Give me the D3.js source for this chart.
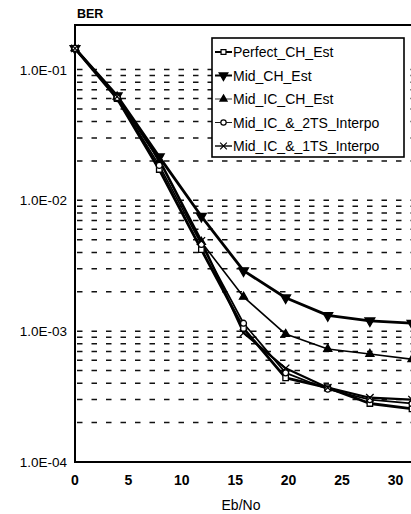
<!DOCTYPE html>
<html>
<head>
<meta charset="utf-8">
<script src="https://cdn.jsdelivr.net/npm/d3@7"></script>
<style>
  body { margin: 0; background: #fff; }
  svg { display: block; font-family: "Liberation Sans", Arial, sans-serif; }
</style>
</head>
<body>
<svg width="411" height="514"></svg>
<script>
// Eb/No points and BER of each series
const ebno = [0, 4, 8, 12, 16, 20, 24, 28, 32];
const perfect = [0.145, 0.060, 0.0172, 0.0042, 0.00105, 0.00044, 0.00037, 0.00028, 0.000255];
const midCh = [0.145, 0.063, 0.0215, 0.00755, 0.0029, 0.0018, 0.00132, 0.0012, 0.00115];
const midIc = [0.145, 0.062, 0.020, 0.0048, 0.00183, 0.00095, 0.00073, 0.00067, 0.00061];
const ts2 = [0.145, 0.061, 0.0185, 0.0046, 0.00115, 0.00048, 0.00036, 0.00030, 0.00028];
const ts1 = [0.145, 0.062, 0.0205, 0.0049, 0.00097, 0.00052, 0.00037, 0.00031, 0.00030];
const seriesNames = ['Perfect_CH_Est', 'Mid_CH_Est', 'Mid_IC_CH_Est', 'Mid_IC_&_2TS_Interpo', 'Mid_IC_&_1TS_Interpo'];
const xTicks = [0, 5, 10, 15, 20, 25, 30];
const yTicks = [1e-4, 1e-3, 1e-2, 1e-1];
const yTickLabels = ['1.0E-04', '1.0E-03', '1.0E-02', '1.0E-01'];

const svg = d3.select('svg');

const x = d3.scaleLinear().domain([0, 32]).range([75, 412]);
const y = d3.scaleLog().domain([1e-4, 1e-1]).range([462, 69.5]);
const frameTop = 25;

// dashed grid at 1..9 x 10^k (not on the bottom axis)
const gridVals = [];
[-4, -3, -2].forEach((k) => {
  for (let m = 1; m <= 9; m++) gridVals.push(m * Math.pow(10, k));
});
gridVals.push(1e-1);

svg.append('g')
  .selectAll('line')
  .data(gridVals.filter((v) => v > 1.0001e-4))
  .enter()
  .append('line')
  .attr('x1', 77)
  .attr('x2', 411)
  .attr('y1', (d) => y(d))
  .attr('y2', (d) => y(d))
  .attr('stroke', '#111')
  .attr('stroke-width', 1.5)
  .attr('stroke-dasharray', '5.5,9');

// frame: left axis, bottom axis, top border
svg.append('path')
  .attr('d', `M411,${frameTop}H75V462H411`)
  .attr('fill', 'none')
  .attr('stroke', '#000')
  .attr('stroke-width', 2);

// y labels
svg.append('g')
  .selectAll('text')
  .data(yTicks)
  .enter()
  .append('text')
  .attr('x', 67)
  .attr('y', (d) => y(d) + 5)
  .attr('text-anchor', 'end')
  .attr('font-size', 13.5)
  .text((d, i) => yTickLabels[i]);

// x labels
svg.append('g')
  .selectAll('text')
  .data(xTicks)
  .enter()
  .append('text')
  .attr('x', (d) => x(d) + d * 0.15)
  .attr('y', 485)
  .attr('text-anchor', 'middle')
  .attr('font-size', 14)
  .attr('font-weight', 'bold')
  .text((d) => d);

svg.append('text')
  .attr('x', 241)
  .attr('y', 510)
  .attr('text-anchor', 'middle')
  .attr('font-size', 14)
  .text('Eb/No');

svg.append('text')
  .attr('x', 77)
  .attr('y', 18)
  .attr('font-size', 12.5)
  .attr('font-weight', 'bold')
  .text('BER');

// series styles
const styles = [
  { vals: perfect, width: 2.8, sym: d3.symbolSquare, size: 30, fill: '#fff', rot: 0 },
  { vals: midCh, width: 2.8, sym: d3.symbolTriangle, size: 42, fill: '#000', rot: 180 },
  { vals: midIc, width: 1.6, sym: d3.symbolTriangle, size: 28, fill: '#000', rot: 0 },
  { vals: ts2, width: 1.7, sym: d3.symbolCircle, size: 28, fill: '#fff', rot: 0 },
  { vals: ts1, width: 2.2, sym: d3.symbolX, size: 38, fill: 'none', rot: 0 }
];

const line = d3.line()
  .x((d) => x(d[0]))
  .y((d) => y(d[1]));

styles.forEach((s) => {
  const pts = ebno.map((e, i) => [e, s.vals[i]]);
  svg.append('path')
    .datum(pts)
    .attr('d', line)
    .attr('fill', 'none')
    .attr('stroke', '#000')
    .attr('stroke-width', s.width)
    .attr('stroke-linejoin', 'round');
});

styles.forEach((s) => {
  const pts = ebno.map((e, i) => [e, s.vals[i]]);
  svg.append('g')
    .selectAll('path')
    .data(pts)
    .enter()
    .append('path')
    .attr('d', d3.symbol().type(s.sym).size(s.size))
    .attr('transform', (d) => `translate(${x(d[0])},${y(d[1])}) rotate(${s.rot})`)
    .attr('fill', s.fill)
    .attr('stroke', '#000')
    .attr('stroke-width', 1.3);
});

// legend
const legend = svg.append('g');
legend.append('rect')
  .attr('x', 212)
  .attr('y', 38)
  .attr('width', 192)
  .attr('height', 119)
  .attr('fill', '#fff')
  .attr('stroke', '#000')
  .attr('stroke-width', 1.6);

const rows = legend.selectAll('g.row')
  .data(seriesNames)
  .enter()
  .append('g')
  .attr('class', 'row')
  .attr('transform', (d, i) => `translate(0,${52 + i * 23.5})`);

rows.append('line')
  .attr('x1', 215)
  .attr('x2', 232)
  .attr('stroke', '#000')
  .attr('stroke-width', (d, i) => styles[i].width - 0.8);

rows.append('path')
  .attr('d', (d, i) => d3.symbol().type(styles[i].sym).size(styles[i].size * 0.8)())
  .attr('transform', (d, i) => `translate(223.5,0) rotate(${styles[i].rot})`)
  .attr('fill', (d, i) => styles[i].fill)
  .attr('stroke', '#000')
  .attr('stroke-width', 1.2);

rows.append('text')
  .attr('x', 233)
  .attr('y', 5)
  .attr('font-size', 14)
  .text((d) => d);
</script>
</body>
</html>
